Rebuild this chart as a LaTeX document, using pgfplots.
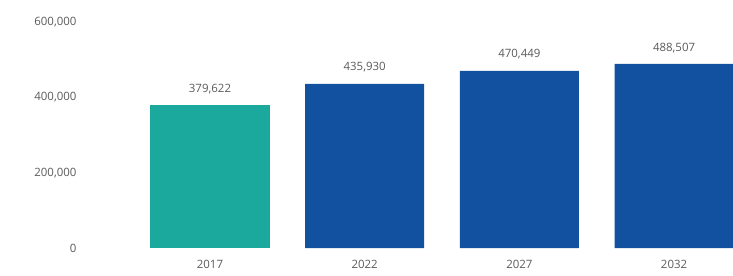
\documentclass[border=0pt]{standalone}
\usepackage{pgfplots}
\pgfplotsset{compat=1.18}
\usepackage{fontspec}
\setmainfont{Open Sans}
\definecolor{tealbar}{RGB}{27,169,157}
\definecolor{bluebar}{RGB}{18,80,160}
\definecolor{txt}{RGB}{90,90,90}
\begin{document}
\begin{tikzpicture}
\path[use as bounding box] (-85bp,-28bp) rectangle (648bp,248bp);
\begin{axis}[
  scale only axis,
  width=648bp, height=226bp,
  xmin=-0.808, xmax=3.381,
  ymin=0, ymax=600000,
  axis line style={draw=none},
  tick style={draw=none},
  xtick={0,1,2,3},
  xticklabels={2017,2022,2027,2032},
  ytick={0,200000,400000,600000},
  scaled y ticks=false,
  /pgf/number format/fixed,
  /pgf/number format/1000 sep={,},
  /pgf/number format/assume math mode=true,
  ticklabel style={font=\fontsize{11.5}{13}\selectfont, text=txt},
  xticklabel style={yshift=-4bp},
  yticklabel style={xshift=-5bp},
  ybar, bar width=0.77, bar shift=0pt,
  nodes near coords,
  nodes near coords style={font=\fontsize{11.5}{13}\selectfont, text=txt, yshift=8bp},
]
\addplot[fill=tealbar, draw=none] coordinates {(0,379622)};
\addplot[fill=bluebar, draw=none] coordinates {(1,435930) (2,470449) (3,488507)};
\end{axis}
\end{tikzpicture}
\end{document}
